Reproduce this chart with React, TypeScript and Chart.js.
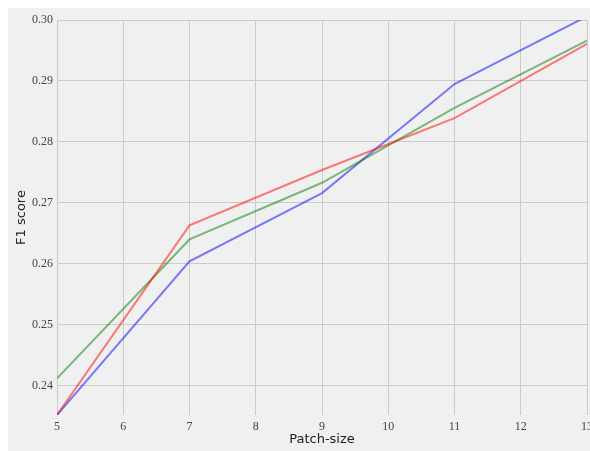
import React, { useEffect, useRef } from "react";
import { Chart, registerables } from "chart.js";

Chart.register(...registerables);

const patchSizes = [5, 7, 9, 11, 13];
const redScores = [0.2352, 0.2663, 0.2754, 0.2839, 0.2961];
const greenScores = [0.2412, 0.264, 0.2733, 0.2856, 0.2966];
const blueScores = [0.2352, 0.2604, 0.2716, 0.2895, 0.3006];
const xTicks = [5, 6, 7, 8, 9, 10, 11, 12, 13];
const yTicks = [0.24, 0.25, 0.26, 0.27, 0.28, 0.29, 0.3];

const bgPlugin = {
  id: "bgFill",
  beforeDraw(chart: any) {
    const ctx = chart.ctx;
    ctx.save();
    ctx.fillStyle = "#f0f0f0";
    ctx.fillRect(0, 0, chart.width, chart.height);
    ctx.restore();
  },
};

export default function App() {
  const ref = useRef<HTMLCanvasElement | null>(null);
  useEffect(() => {
    if (!ref.current) return;
    const pts = (ys: number[]) => patchSizes.map((x, i) => ({ x, y: ys[i] }));
    const tickFont = { family: "'Liberation Serif', serif", size: 12 };
    const titleFont = { family: "'DejaVu Sans', sans-serif", size: 13 };
    const chart = new Chart(ref.current, {
      type: "line",
      data: {
        datasets: [
          { label: "red", data: pts(redScores), borderColor: "rgba(255,0,0,0.5)", borderWidth: 2, pointRadius: 0, fill: false, tension: 0 },
          { label: "green", data: pts(greenScores), borderColor: "rgba(0,128,0,0.5)", borderWidth: 2, pointRadius: 0, fill: false, tension: 0 },
          { label: "blue", data: pts(blueScores), borderColor: "rgba(0,0,255,0.5)", borderWidth: 2, pointRadius: 0, fill: false, tension: 0 },
        ],
      },
      options: {
        responsive: false,
        animation: false,
        layout: { padding: { top: 12, right: 3, left: 0, bottom: 0 } },
        plugins: { legend: { display: false }, tooltip: { enabled: false } },
        scales: {
          x: {
            type: "linear",
            min: 5,
            max: 13,
            border: { display: false },
            grid: { color: "#cbcbcb", lineWidth: 1, drawTicks: false },
            afterBuildTicks: (s: any) => {
              s.ticks = xTicks.map((v) => ({ value: v }));
            },
            afterFit: (s: any) => {
              s.height = 36;
              s.paddingLeft = 0;
              s.paddingRight = 0;
            },
            ticks: { color: "#444", font: tickFont, padding: 5, maxRotation: 0, autoSkip: false, callback: (v: any) => String(v) },
            title: { display: true, text: "Patch-size", color: "#222", font: titleFont, padding: { top: 0, bottom: 4 } },
          },
          y: {
            type: "linear",
            min: 0.2352,
            max: 0.3,
            border: { display: false },
            grid: { color: "#cbcbcb", lineWidth: 1, drawTicks: false },
            afterBuildTicks: (s: any) => {
              s.ticks = yTicks.map((v) => ({ value: v }));
            },
            afterFit: (s: any) => {
              s.width = 49;
              s.paddingTop = 0;
              s.paddingBottom = 0;
            },
            ticks: { color: "#444", font: tickFont, padding: 4, autoSkip: false, callback: (v: any) => Number(v).toFixed(2) },
            title: { display: true, text: "F1 score", color: "#222", font: titleFont, padding: { top: 6, bottom: 0 } },
          },
        },
      },
      plugins: [bgPlugin],
    });
    return () => chart.destroy();
  }, []);
  return (
    <div style={{ position: "fixed", left: 8, top: 8, width: 582, height: 443 }}>
      <canvas ref={ref} width={582} height={443} style={{ display: "block", width: 582, height: 443 }} />
    </div>
  );
}
